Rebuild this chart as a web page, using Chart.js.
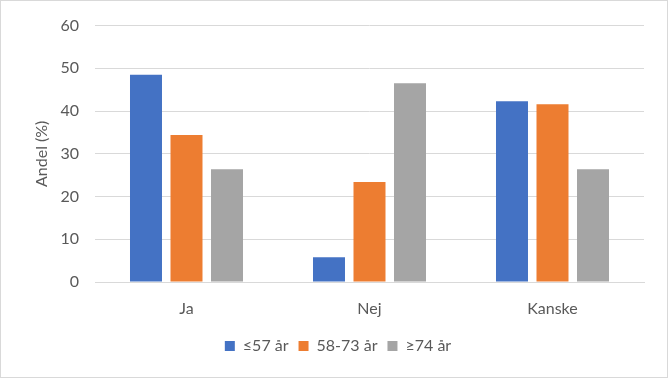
<!DOCTYPE html>
<html><head><meta charset="utf-8">
<script src="https://cdn.jsdelivr.net/npm/chart.js@4"></script>
<style>html,body{margin:0;padding:0;background:#fff}#w{width:668px;height:378px}</style>
</head><body><div id="w"><canvas id="c" width="668" height="378"></canvas></div>
<script>
const categories = ["Ja", "Nej", "Kanske"];
const seriesNames = ["≤57 år", "58-73 år", "≥74 år"];
const young = [48.5, 5.8, 42.3];
const middle = [34.4, 23.4, 41.6];
const old = [26.4, 46.5, 26.4];
const yTicks = [0, 10, 20, 30, 40, 50, 60];
const colors = ["#4472C4", "#ED7D31", "#A5A5A5"];

const borderPlugin = {
  id: 'outerBorder',
  afterDraw(chart) {
    const ctx = chart.ctx;
    ctx.save();
    ctx.strokeStyle = '#d9d9d9';
    ctx.lineWidth = 1;
    ctx.strokeRect(0.5, 0.5, chart.width - 1, chart.height - 1);
    ctx.restore();
  }
};

const font = { family: "Lato, 'Open Sans', sans-serif", size: 16 };
new Chart(document.getElementById('c'), {
  type: 'bar',
  data: {
    labels: categories,
    datasets: [young, middle, old].map((d, i) => ({
      label: seriesNames[i], data: d, backgroundColor: colors[i],
      categoryPercentage: 0.664, barPercentage: 0.79
    }))
  },
  options: {
    responsive: false, animation: false,
    devicePixelRatio: 1,
    layout: { padding: { top: 13, right: 24, left: 32, bottom: 14 } },
    plugins: {
      legend: {
        position: 'bottom',
        labels: { boxWidth: 10, boxHeight: 10, color: '#595959', font: font, padding: 10 }
      },
      tooltip: { enabled: false }
    },
    scales: {
      x: {
        grid: { display: false },
        border: { color: '#d9d9d9' },
        ticks: { color: '#595959', font: font, padding: 9 },
        afterFit(s) { s.height = 46; }
      },
      y: {
        min: 0, max: 60,
        afterBuildTicks(s) { s.ticks = yTicks.map(v => ({ value: v })); },
        grid: { color: '#d9d9d9', drawTicks: false, lineWidth: 1 },
        border: { display: false },
        ticks: { color: '#595959', font: font, padding: 16 },
        title: { display: true, text: 'Andel (%)', color: '#595959', font: font, padding: 0 },
        afterFit(s) { s.width = 63; }
      }
    }
  },
  plugins: [borderPlugin]
});
</script></body></html>
